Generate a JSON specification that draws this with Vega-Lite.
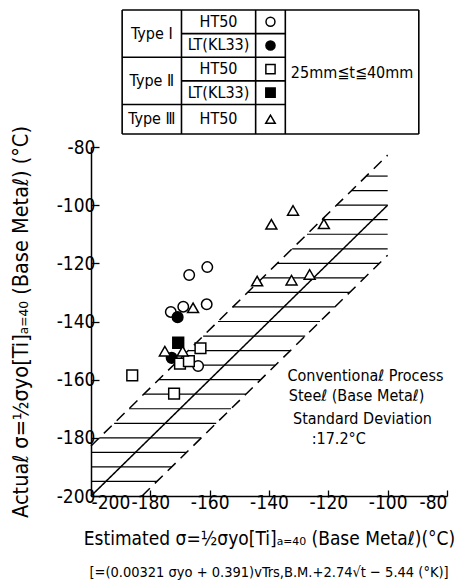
{
  "$schema": "https://vega.github.io/schema/vega-lite/v6.json",
  "background": "white",
  "padding": {"left": 10, "top": 9, "right": 0, "bottom": 0},
  "spacing": 13,
  "bounds": "flush",
  "config": {
    "font": "DejaVu Sans Condensed, DejaVu Sans, sans-serif",
    "view": {"stroke": null},
    "axis": {
      "grid": false,
      "domainColor": "black",
      "domainWidth": 1.5,
      "tickColor": "black",
      "tickWidth": 1.3,
      "labelColor": "black",
      "titleColor": "black",
      "titleFontWeight": "normal",
      "labelOverlap": false
    }
  },
  "datasets": {
    "tableLines": [
      {"c1": 0, "c2": 10, "r1": 0, "r2": 0},
      {"c1": 0, "c2": 10, "r1": 5.25, "r2": 5.25},
      {"c1": 0, "c2": 0, "r1": 0, "r2": 5.25},
      {"c1": 10, "c2": 10, "r1": 0, "r2": 5.25},
      {"c1": 2, "c2": 2, "r1": 0, "r2": 5.25},
      {"c1": 4.5, "c2": 4.5, "r1": 0, "r2": 5.25},
      {"c1": 5.5, "c2": 5.5, "r1": 0, "r2": 5.25},
      {"c1": 0, "c2": 5.5, "r1": 2, "r2": 2},
      {"c1": 0, "c2": 5.5, "r1": 4, "r2": 4},
      {"c1": 2, "c2": 5.5, "r1": 1, "r2": 1},
      {"c1": 2, "c2": 5.5, "r1": 3, "r2": 3}
    ],
    "tableText": [
      {"label": "Type Ⅰ", "col": 1, "row": 1},
      {"label": "Type Ⅱ", "col": 1, "row": 3},
      {"label": "Type Ⅲ", "col": 1, "row": 4.625},
      {"label": "HT50", "col": 3.25, "row": 0.5},
      {"label": "LT(KL33)", "col": 3.25, "row": 1.5},
      {"label": "HT50", "col": 3.25, "row": 2.5},
      {"label": "LT(KL33)", "col": 3.25, "row": 3.5},
      {"label": "HT50", "col": 3.25, "row": 4.625},
      {"label": "25mm≦t≦40mm", "col": 7.75, "row": 2.65}
    ],
    "tableSymbols": [
      {"group": "Type I HT50", "col": 5, "row": 0.5},
      {"group": "Type I LT(KL33)", "col": 5, "row": 1.5},
      {"group": "Type II HT50", "col": 5, "row": 2.5},
      {"group": "Type II LT(KL33)", "col": 5, "row": 3.5},
      {"group": "Type III HT50", "col": 5, "row": 4.625}
    ],
    "hatch": [
      {"y": -195, "xa": -200, "xb": -177.8},
      {"y": -190, "xa": -200, "xb": -172.8},
      {"y": -185, "xa": -200, "xb": -167.8},
      {"y": -180, "xa": -197.2, "xb": -162.8},
      {"y": -175, "xa": -192.2, "xb": -157.8},
      {"y": -170, "xa": -187.2, "xb": -152.8},
      {"y": -165, "xa": -182.2, "xb": -147.8},
      {"y": -160, "xa": -177.2, "xb": -142.8},
      {"y": -155, "xa": -172.2, "xb": -137.8},
      {"y": -150, "xa": -167.2, "xb": -132.8},
      {"y": -145, "xa": -162.2, "xb": -127.8},
      {"y": -140, "xa": -157.2, "xb": -122.8},
      {"y": -135, "xa": -152.2, "xb": -117.8},
      {"y": -130, "xa": -147.2, "xb": -112.8},
      {"y": -125, "xa": -142.2, "xb": -107.8},
      {"y": -120, "xa": -137.2, "xb": -102.8},
      {"y": -115, "xa": -132.2, "xb": -100},
      {"y": -110, "xa": -127.2, "xb": -100},
      {"y": -105, "xa": -122.2, "xb": -100},
      {"y": -100, "xa": -117.2, "xb": -100},
      {"y": -95, "xa": -112.2, "xb": -100},
      {"y": -90, "xa": -107.2, "xb": -100}
    ],
    "band": [
      {"line": "mean", "xa": -200, "ya": -200, "xb": -100, "yb": -100},
      {"line": "upper", "xa": -200, "ya": -182.8, "xb": -100, "yb": -82.8},
      {"line": "lower", "xa": -182.8, "ya": -200, "xb": -100, "yb": -117.2}
    ],
    "points": [
      {"group": "Type I HT50", "est": -160.8, "act": -121.3},
      {"group": "Type I HT50", "est": -166.9, "act": -124.0},
      {"group": "Type I HT50", "est": -161.0, "act": -134.1},
      {"group": "Type I HT50", "est": -168.9, "act": -134.9},
      {"group": "Type I HT50", "est": -173.1, "act": -136.7},
      {"group": "Type I HT50", "est": -163.9, "act": -155.3},
      {"group": "Type I LT(KL33)", "est": -170.8, "act": -138.5},
      {"group": "Type I LT(KL33)", "est": -172.8, "act": -152.5},
      {"group": "Type II HT50", "est": -163.1, "act": -149.2},
      {"group": "Type II HT50", "est": -170.0, "act": -154.5},
      {"group": "Type II HT50", "est": -167.0, "act": -153.6},
      {"group": "Type II HT50", "est": -186.1, "act": -158.5},
      {"group": "Type II HT50", "est": -172.0, "act": -164.8},
      {"group": "Type II LT(KL33)", "est": -170.6, "act": -147.3},
      {"group": "Type III HT50", "est": -165.6, "act": -135.3},
      {"group": "Type III HT50", "est": -175.1, "act": -150.2},
      {"group": "Type III HT50", "est": -169.1, "act": -150.2},
      {"group": "Type III HT50", "est": -131.9, "act": -101.8},
      {"group": "Type III HT50", "est": -139.2, "act": -106.6},
      {"group": "Type III HT50", "est": -121.5, "act": -106.4},
      {"group": "Type III HT50", "est": -126.3, "act": -123.8},
      {"group": "Type III HT50", "est": -132.4, "act": -125.8},
      {"group": "Type III HT50", "est": -144.0, "act": -126.1}
    ],
    "note": [
      {"text": "Conventionaℓ Process", "nx": -107.5, "ny": -158.7},
      {"text": "Steeℓ (Base Metaℓ)", "nx": -110.5, "ny": -165.6},
      {"text": "Standard Deviation", "nx": -108.5, "ny": -173.5},
      {"text": ":17.2°C", "nx": -116.5, "ny": -180.4}
    ]
  },
  "vconcat": [
    {
      "width": 356,
      "height": 124,
      "layer": [
        {
          "data": {"name": "tableLines"},
          "mark": {"type": "rule", "color": "black", "strokeWidth": 1.6},
          "encoding": {
            "x": {"field": "c1", "type": "quantitative", "scale": {"domain": [-1.05, 10.95], "nice": false, "zero": false}, "axis": null},
            "x2": {"field": "c2"},
            "y": {"field": "r1", "type": "quantitative", "scale": {"domain": [0, 5.25], "reverse": true, "nice": false, "zero": false}, "axis": null},
            "y2": {"field": "r2"}
          }
        },
        {
          "data": {"name": "tableText"},
          "mark": {"type": "text", "fontSize": 16, "color": "black", "align": "center", "baseline": "middle"},
          "encoding": {
            "x": {"field": "col", "type": "quantitative"},
            "y": {"field": "row", "type": "quantitative"},
            "text": {"field": "label"}
          }
        },
        {
          "data": {"name": "tableSymbols"},
          "mark": {"type": "point", "filled": true, "opacity": 1, "stroke": "black", "strokeWidth": 1.5},
          "encoding": {
            "x": {"field": "col", "type": "quantitative"},
            "y": {"field": "row", "type": "quantitative"},
            "shape": {"field": "group", "type": "nominal", "legend": null,
              "scale": {"domain": ["Type I HT50", "Type I LT(KL33)", "Type II HT50", "Type II LT(KL33)", "Type III HT50"],
                        "range": ["circle", "circle", "square", "square", "triangle-up"]}},
            "fill": {"field": "group", "type": "nominal", "legend": null,
              "scale": {"domain": ["Type I HT50", "Type I LT(KL33)", "Type II HT50", "Type II LT(KL33)", "Type III HT50"],
                        "range": ["white", "black", "white", "black", "white"]}},
            "size": {"field": "group", "type": "nominal", "legend": null,
              "scale": {"domain": ["Type I HT50", "Type I LT(KL33)", "Type II HT50", "Type II LT(KL33)", "Type III HT50"],
                        "range": [80, 90, 70, 70, 95]}}
          }
        }
      ]
    },
    {
      "width": 356,
      "height": 349,
      "title": {
        "text": "[=(0.00321 σyo + 0.391)vTrs,B.M.+2.74√t − 5.44 (°K)]",
        "orient": "bottom",
        "anchor": "middle",
        "fontSize": 14.5,
        "fontWeight": "normal",
        "color": "black",
        "offset": 18
      },
      "resolve": {"scale": {"size": "independent"}},
      "layer": [
        {
          "data": {"name": "hatch"},
          "mark": {"type": "rule", "color": "black", "strokeWidth": 1.2},
          "encoding": {
            "x": {"field": "xa", "type": "quantitative",
              "scale": {"domain": [-200, -80], "nice": false, "zero": false},
              "axis": {
                "values": [-200, -190, -180, -170, -160, -150, -140, -130, -120, -110, -100, -90, -80],
                "labelExpr": "datum.value % 20 === 0 ? '' + datum.value : ''",
                "tickSize": -6,
                "labelPadding": 3,
                "labelFontSize": 19,
                "title": "Estimated σ=½σyo[Ti]ₐ₌₄₀ (Base Metaℓ)(°C)",
                "titleFontSize": 19,
                "titlePadding": 17
              }},
            "x2": {"field": "xb"},
            "y": {"field": "y", "type": "quantitative",
              "scale": {"domain": [-200, -80], "nice": false, "zero": false},
              "axis": {
                "values": [-200, -190, -180, -170, -160, -150, -140, -130, -120, -110, -100, -90, -80],
                "labelExpr": "datum.value % 20 === 0 ? '' + datum.value : ''",
                "tickSize": -8,
                "labelPadding": 4,
                "labelFontSize": 19,
                "title": "Actuaℓ σ=½σyo[Ti]ₐ₌₄₀ (Base Metaℓ) (°C)",
                "titleFontSize": 21.5,
                "titlePadding": 24
              }}
          }
        },
        {
          "data": {"name": "band"},
          "mark": {"type": "rule", "color": "black", "strokeWidth": 1.5},
          "encoding": {
            "x": {"field": "xa", "type": "quantitative"},
            "x2": {"field": "xb"},
            "y": {"field": "ya", "type": "quantitative"},
            "y2": {"field": "yb"},
            "strokeDash": {"field": "line", "type": "nominal", "legend": null,
              "scale": {"domain": ["mean", "upper", "lower"], "range": [[1, 0], [11, 7], [11, 7]]}}
          }
        },
        {
          "data": {"name": "points"},
          "mark": {"type": "point", "filled": true, "opacity": 1, "stroke": "black", "strokeWidth": 1.5},
          "encoding": {
            "x": {"field": "est", "type": "quantitative"},
            "y": {"field": "act", "type": "quantitative"},
            "shape": {"field": "group", "type": "nominal", "legend": null},
            "fill": {"field": "group", "type": "nominal", "legend": null},
            "size": {"field": "group", "type": "nominal", "legend": null,
              "scale": {"domain": ["Type I HT50", "Type I LT(KL33)", "Type II HT50", "Type II LT(KL33)", "Type III HT50"],
                        "range": [110, 120, 85, 85, 130]}}
          }
        },
        {
          "data": {"name": "note"},
          "mark": {"type": "text", "fontSize": 16, "color": "black", "align": "center", "baseline": "middle"},
          "encoding": {
            "x": {"field": "nx", "type": "quantitative"},
            "y": {"field": "ny", "type": "quantitative"},
            "text": {"field": "text"}
          }
        }
      ]
    }
  ]
}
